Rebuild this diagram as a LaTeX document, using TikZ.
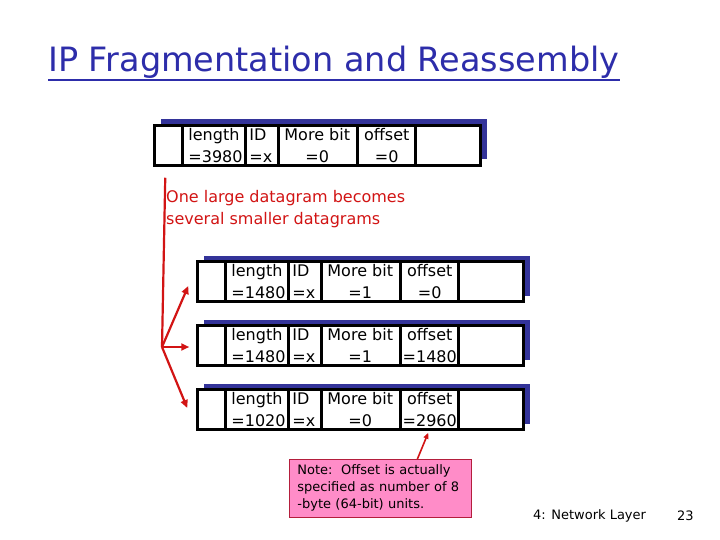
\documentclass[tikz,border=0pt]{standalone}
\usepackage{fontspec}
\setmainfont{DejaVu Sans}
\usetikzlibrary{calc,shadows,arrows.meta}
\definecolor{titleblue}{RGB}{45,45,170}
\definecolor{shadowblue}{RGB}{51,51,153}
\definecolor{arrowred}{RGB}{210,20,20}
\definecolor{notepink}{RGB}{255,140,200}
\definecolor{noteborder}{RGB}{180,30,60}
\tikzset{
  dgram/.style={draw=black, fill=white, line width=2.5pt, minimum width=326pt,
    minimum height=40pt, inner sep=0pt,
    drop shadow={shadow xshift=6pt, shadow yshift=6pt, fill=shadowblue, opacity=1}},
  cellline/.style={line width=2.5pt},
  ftext/.style={font=\fontsize{16}{18}\selectfont, inner sep=0pt},
  redarrow/.style={draw=arrowred, line width=2.2pt, -{Triangle[length=8pt,width=7pt]}},
  redline/.style={draw=arrowred, line width=2.2pt},
  notebox/.style={draw=noteborder, fill=notepink, line width=0.8pt, align=left,
    font=\fontsize{13}{17}\selectfont, inner xsep=7pt, inner ysep=0pt,
    minimum width=182pt, minimum height=58pt, text width=166pt},
  foot/.style={font=\fontsize{13}{15}\selectfont, inner sep=0pt},
}
\newcommand\dgrambox[6]{%
  \node[dgram, anchor=north west] (#1) at (#2,#3) {};
  \foreach \dx in {29,92,125,204,262}
    \draw[cellline] ($(#1.north west)+(\dx,0)$) -- ($(#1.south west)+(\dx,0)$);
  \node[ftext, anchor=base west] (#1-lh) at ($(#1.north west)+(35,16)$) {length};
  \node[ftext, anchor=base west] (#1-lv) at ($(#1.north west)+(35,38)$) {=#4};
  \node[ftext, anchor=base west] (#1-ih) at ($(#1.north west)+(96,16)$) {ID};
  \node[ftext, anchor=base west] (#1-iv) at ($(#1.north west)+(96,38)$) {=x};
  \node[ftext, anchor=base] (#1-mh) at ($(#1.north west)+(164,16)$) {More bit};
  \node[ftext, anchor=base] (#1-mv) at ($(#1.north west)+(164,38)$) {=#5};
  \node[ftext, anchor=base] (#1-oh) at ($(#1.north west)+(233.5,16)$) {offset};
  \node[ftext, anchor=base] (#1-ov) at ($(#1.north west)+(233.5,38)$) {=#6};
}
\begin{document}
\begin{tikzpicture}[x=1pt,y=-1pt]
  \useasboundingbox (0,0) rectangle (720,540);
  \fill[white] (0,0) rectangle (720,540);

  % title
  \node[font=\fontsize{33.5}{38}\selectfont, text=titleblue, anchor=base west, inner sep=0pt]
    (title) at (48,72) {IP Fragmentation and Reassembly};
  \draw[titleblue, line width=2pt] ($(title.base west)+(0,8)$) -- ($(title.base east)+(0,8)$);

  % datagrams
  \dgrambox{d0}{153.25}{124.25}{3980}{0}{0}
  \dgrambox{d1}{196.25}{260.25}{1480}{1}{0}
  \dgrambox{d2}{196.25}{324.25}{1480}{1}{1480}
  \dgrambox{d3}{196.25}{388.25}{1020}{0}{2960}

  % red explanation
  \node[font=\fontsize{16}{22}\selectfont, text=arrowred, align=left, anchor=north west, inner sep=0pt]
    (expl) at (166,190) {One large datagram becomes\\several smaller datagrams};

  \coordinate (vtop) at ($(d0.south west)+(12,11)$);
  \coordinate (split) at (162,347);
  \draw[redline] (vtop) -- (split);
  \draw[redarrow] (split) -- ($(d1.west)+(-8,4.5)$);
  \draw[redarrow] (split) -- ($(d2.west)+(-7,1.5)$);
  \draw[redarrow] (split) -- ($(d3.west)+(-9,-1.5)$);

  % note
  \node[notebox, anchor=north west] (note) at (289,459)
    {Note:\ \ Offset is actually\\specified as number of 8\\-byte (64-bit) units.};
  \draw[redarrow, line width=1.6pt, -{Triangle[length=6pt,width=5pt]}]
    ($(note.north)+(37,0)$) -- ($(d3.south west)+(232,2)$);

  % footer
  \node[foot, anchor=west] (chap) at (533,516) {4: Network Layer};
  \node[foot, anchor=west] (page) at (677,516) {23};
\end{tikzpicture}
\end{document}
